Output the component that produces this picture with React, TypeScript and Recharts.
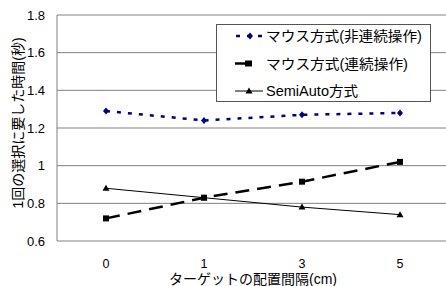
import { LineChart, Line, XAxis, YAxis, CartesianGrid, Legend, Label } from 'recharts'

// ターゲットの配置間隔(cm)
const spacings = ['0', '1', '3', '5']
// 1回の選択に要した時間(秒)
const mouseSeparate = [1.29, 1.24, 1.27, 1.28]
const mouseContinuous = [0.72, 0.83, 0.915, 1.02]
const semiAuto = [0.88, 0.83, 0.78, 0.74]
const yTicks = [0.6, 0.8, 1, 1.2, 1.4, 1.6, 1.8]
const seriesNames = ['マウス方式(非連続操作)', 'マウス方式(連続操作)', 'SemiAuto方式']
const legendTextWidths = [156, 142, 92]

const data = spacings.map((s, i) => ({
  pos: i,
  label: s,
  a: mouseSeparate[i],
  b: mouseContinuous[i],
  c: semiAuto[i],
}))

const FONT = "'Liberation Sans', 'Noto Sans CJK JP', sans-serif"
const NAVY = '#000080'
const GRID = '#808080'

const diamond = (cx: number, cy: number) =>
  `M${cx} ${cy - 3.5}L${cx + 3} ${cy}L${cx} ${cy + 3.5}L${cx - 3} ${cy}Z`

function DiamondDot(p: any) {
  if (p.cx == null) return null
  return <path key={p.key} d={diamond(p.cx, p.cy)} fill={NAVY} />
}

function SquareDot(p: any) {
  if (p.cx == null) return null
  return <rect key={p.key} x={p.cx - 3} y={p.cy - 3} width={6} height={6} fill="#000" />
}

function TriangleDot(p: any) {
  if (p.cx == null) return null
  return <path key={p.key} d={`M${p.cx} ${p.cy - 3.5}L${p.cx + 3.5} ${p.cy + 2.5}L${p.cx - 3.5} ${p.cy + 2.5}Z`} fill="#000" />
}

function LegendBox() {
  const rowY = [12, 39.5, 67]
  return (
    <svg width={216} height={79} style={{ display: 'block' }}>
      <rect x={0.5} y={0.5} width={214} height={77} fill="#fff" stroke="#555" />
      <line x1={20} x2={47} y1={rowY[0]} y2={rowY[0]} stroke={NAVY} strokeWidth={2.5} strokeDasharray="4 7" />
      <path d={diamond(34, rowY[0])} fill={NAVY} />
      <line x1={19} x2={46} y1={rowY[1]} y2={rowY[1]} stroke="#000" strokeWidth={2.5} strokeDasharray="14 14" />
      <rect x={29} y={rowY[1] - 3} width={7} height={6} fill="#000" />
      <line x1={19} x2={47} y1={rowY[2]} y2={rowY[2]} stroke="#000" strokeWidth={1} />
      <path d={`M33 ${rowY[2] - 3.5}L36.5 ${rowY[2] + 2.5}L29.5 ${rowY[2] + 2.5}Z`} fill="#000" />
      {seriesNames.map((n, i) => (
        <text
          key={n}
          x={50}
          y={rowY[i]}
          dominantBaseline="central"
          fontSize={14}
          fontFamily={FONT}
          fill="#000"
          textLength={legendTextWidths[i]}
          lengthAdjust="spacingAndGlyphs"
        >
          {n}
        </text>
      ))}
    </svg>
  )
}

export default function App() {
  return (
    <div style={{ position: 'absolute', left: 0, top: 0, width: 446, height: 286, overflow: 'hidden', background: '#fff' }}>
      <LineChart width={450} height={286} data={data} margin={{ top: 15, right: 1, bottom: 0, left: 0 }}>
        <CartesianGrid xAxisId="cat" vertical={false} stroke={GRID} />
        <XAxis
          xAxisId="marks"
          type="number"
          domain={[-0.5, 3.5]}
          allowDataOverflow
          ticks={[0.5, 1.5, 2.5]}
          tick={false}
          tickSize={5}
          height={0}
          axisLine={{ stroke: GRID }}
          tickLine={{ stroke: GRID }}
        />
        <XAxis
          xAxisId="cat"
          dataKey="pos"
          type="number"
          domain={[-0.5, 3.5]}
          allowDataOverflow
          ticks={[0, 1, 2, 3]}
          tickFormatter={(v: number) => spacings[v]}
          tickLine={false}
          axisLine={false}
          tickMargin={12}
          height={45}
          tick={{ fill: '#000', fontSize: 12.5, fontFamily: FONT }}
        >
          <Label value="ターゲットの配置間隔(cm)" position="insideBottom" offset={2} fill="#000" fontSize={14} fontFamily={FONT} />
        </XAxis>
        <YAxis
          domain={[0.6, 1.8]}
          ticks={yTicks}
          tickFormatter={(v: number) => String(Number(v.toFixed(1)))}
          width={57}
          tickLine={false}
          tickSize={0}
          tickMargin={12}
          axisLine={{ stroke: GRID }}
          tick={{ fill: '#000', fontSize: 13, fontFamily: FONT }}
        >
          <Label
            content={(p: any) => {
              const vb = p.viewBox
              const x = vb.x + 18
              const y = vb.y + vb.height / 2 - 5
              return (
                <text x={x} y={y} transform={`rotate(-90 ${x} ${y})`} textAnchor="middle" dominantBaseline="central" fontSize={14} fontFamily={FONT} fill="#000">
                  1回の選択に要した時間(秒)
                </text>
              )
            }}
          />
        </YAxis>
        <Line xAxisId="cat" dataKey="a" stroke={NAVY} strokeWidth={2.5} strokeDasharray="4 7" dot={DiamondDot} activeDot={false} isAnimationActive={false} />
        <Line xAxisId="cat" dataKey="b" stroke="#000" strokeWidth={2.5} strokeDasharray="14 8" dot={SquareDot} activeDot={false} isAnimationActive={false} />
        <Line xAxisId="cat" dataKey="c" stroke="#000" strokeWidth={1} dot={TriangleDot} activeDot={false} isAnimationActive={false} />
        <Legend
          layout="vertical"
          align="center"
          verticalAlign="middle"
          wrapperStyle={{ left: 216, top: 24, width: 216 }}
          content={() => <LegendBox />}
        />
      </LineChart>
    </div>
  )
}
